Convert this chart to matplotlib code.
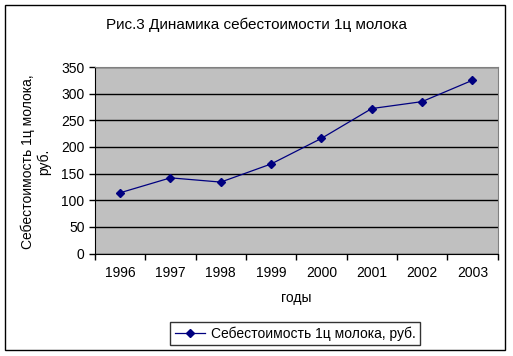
import numpy as np
import matplotlib.pyplot as plt
from matplotlib.patches import Rectangle

plt.rcParams['font.family'] = ['Liberation Sans', 'DejaVu Sans']

years = ["1996", "1997", "1998", "1999", "2000", "2001", "2002", "2003"]
cost = [114, 142, 134, 168, 216, 272, 285, 325]

title = "Рис.3 Динамика себестоимости 1ц молока"
series_name = "Себестоимость 1ц молока, руб."
ylabel_lines = ["Себестоимость 1ц молока,", "руб."]

fig = plt.figure(figsize=(5.13, 3.56), dpi=100)
ax = fig.add_axes([95 / 513, 1 - 253.5 / 356, 402.5 / 513, 186.5 / 356])
ax.set_facecolor("#c0c0c0")

x = np.arange(len(years))
ax.plot(x, cost, color="#000080", lw=0.9, marker="D", ms=4, label=series_name)

ax.set_xlim(-0.5, len(years) - 0.5)
ax.set_ylim(0, 350)
ax.set_yticks(range(0, 351, 50))
ax.set_xticks(np.arange(-0.5, len(years)), [""] * (len(years) + 1))
ax.set_xticks(x, years, minor=True)
ax.tick_params(axis="x", which="minor", length=0, pad=9)
ax.tick_params(axis="both", which="major", length=4, width=1, color="black", labelsize=10)
ax.tick_params(axis="x", which="minor", labelsize=10)
ax.yaxis.grid(True, color="black", lw=1)
for g in ax.get_ygridlines():
    g.set_zorder(1)

ax.spines["left"].set_color("black")
ax.spines["bottom"].set_color("black")
ax.spines["top"].set_color("#808080")
ax.spines["right"].set_color("#808080")

ax.set_xlabel("годы", fontsize=10, labelpad=8)

# y label: two lines, each centred on the plot height
for xpos, line in zip([28, 44], ylabel_lines):
    fig.text(xpos / 513, 1 - 162 / 356, line, rotation=90,
             ha="center", va="center", fontsize=10)

fig.text(0.5, 1 - 25 / 356, title, ha="center", va="center", fontsize=11)

fig.legend(loc="center", bbox_to_anchor=(295 / 513, 1 - 333.5 / 356), frameon=True,
           fancybox=False, edgecolor="black", fontsize=10, handlelength=2.2,
           borderpad=0.3, handletextpad=0.4)

fig.patches.append(Rectangle((5 / 513, 6 / 356), 500 / 513, 345 / 356,
                             transform=fig.transFigure, fill=False, edgecolor="black", lw=1))

fig.savefig("out.png", dpi=100)
